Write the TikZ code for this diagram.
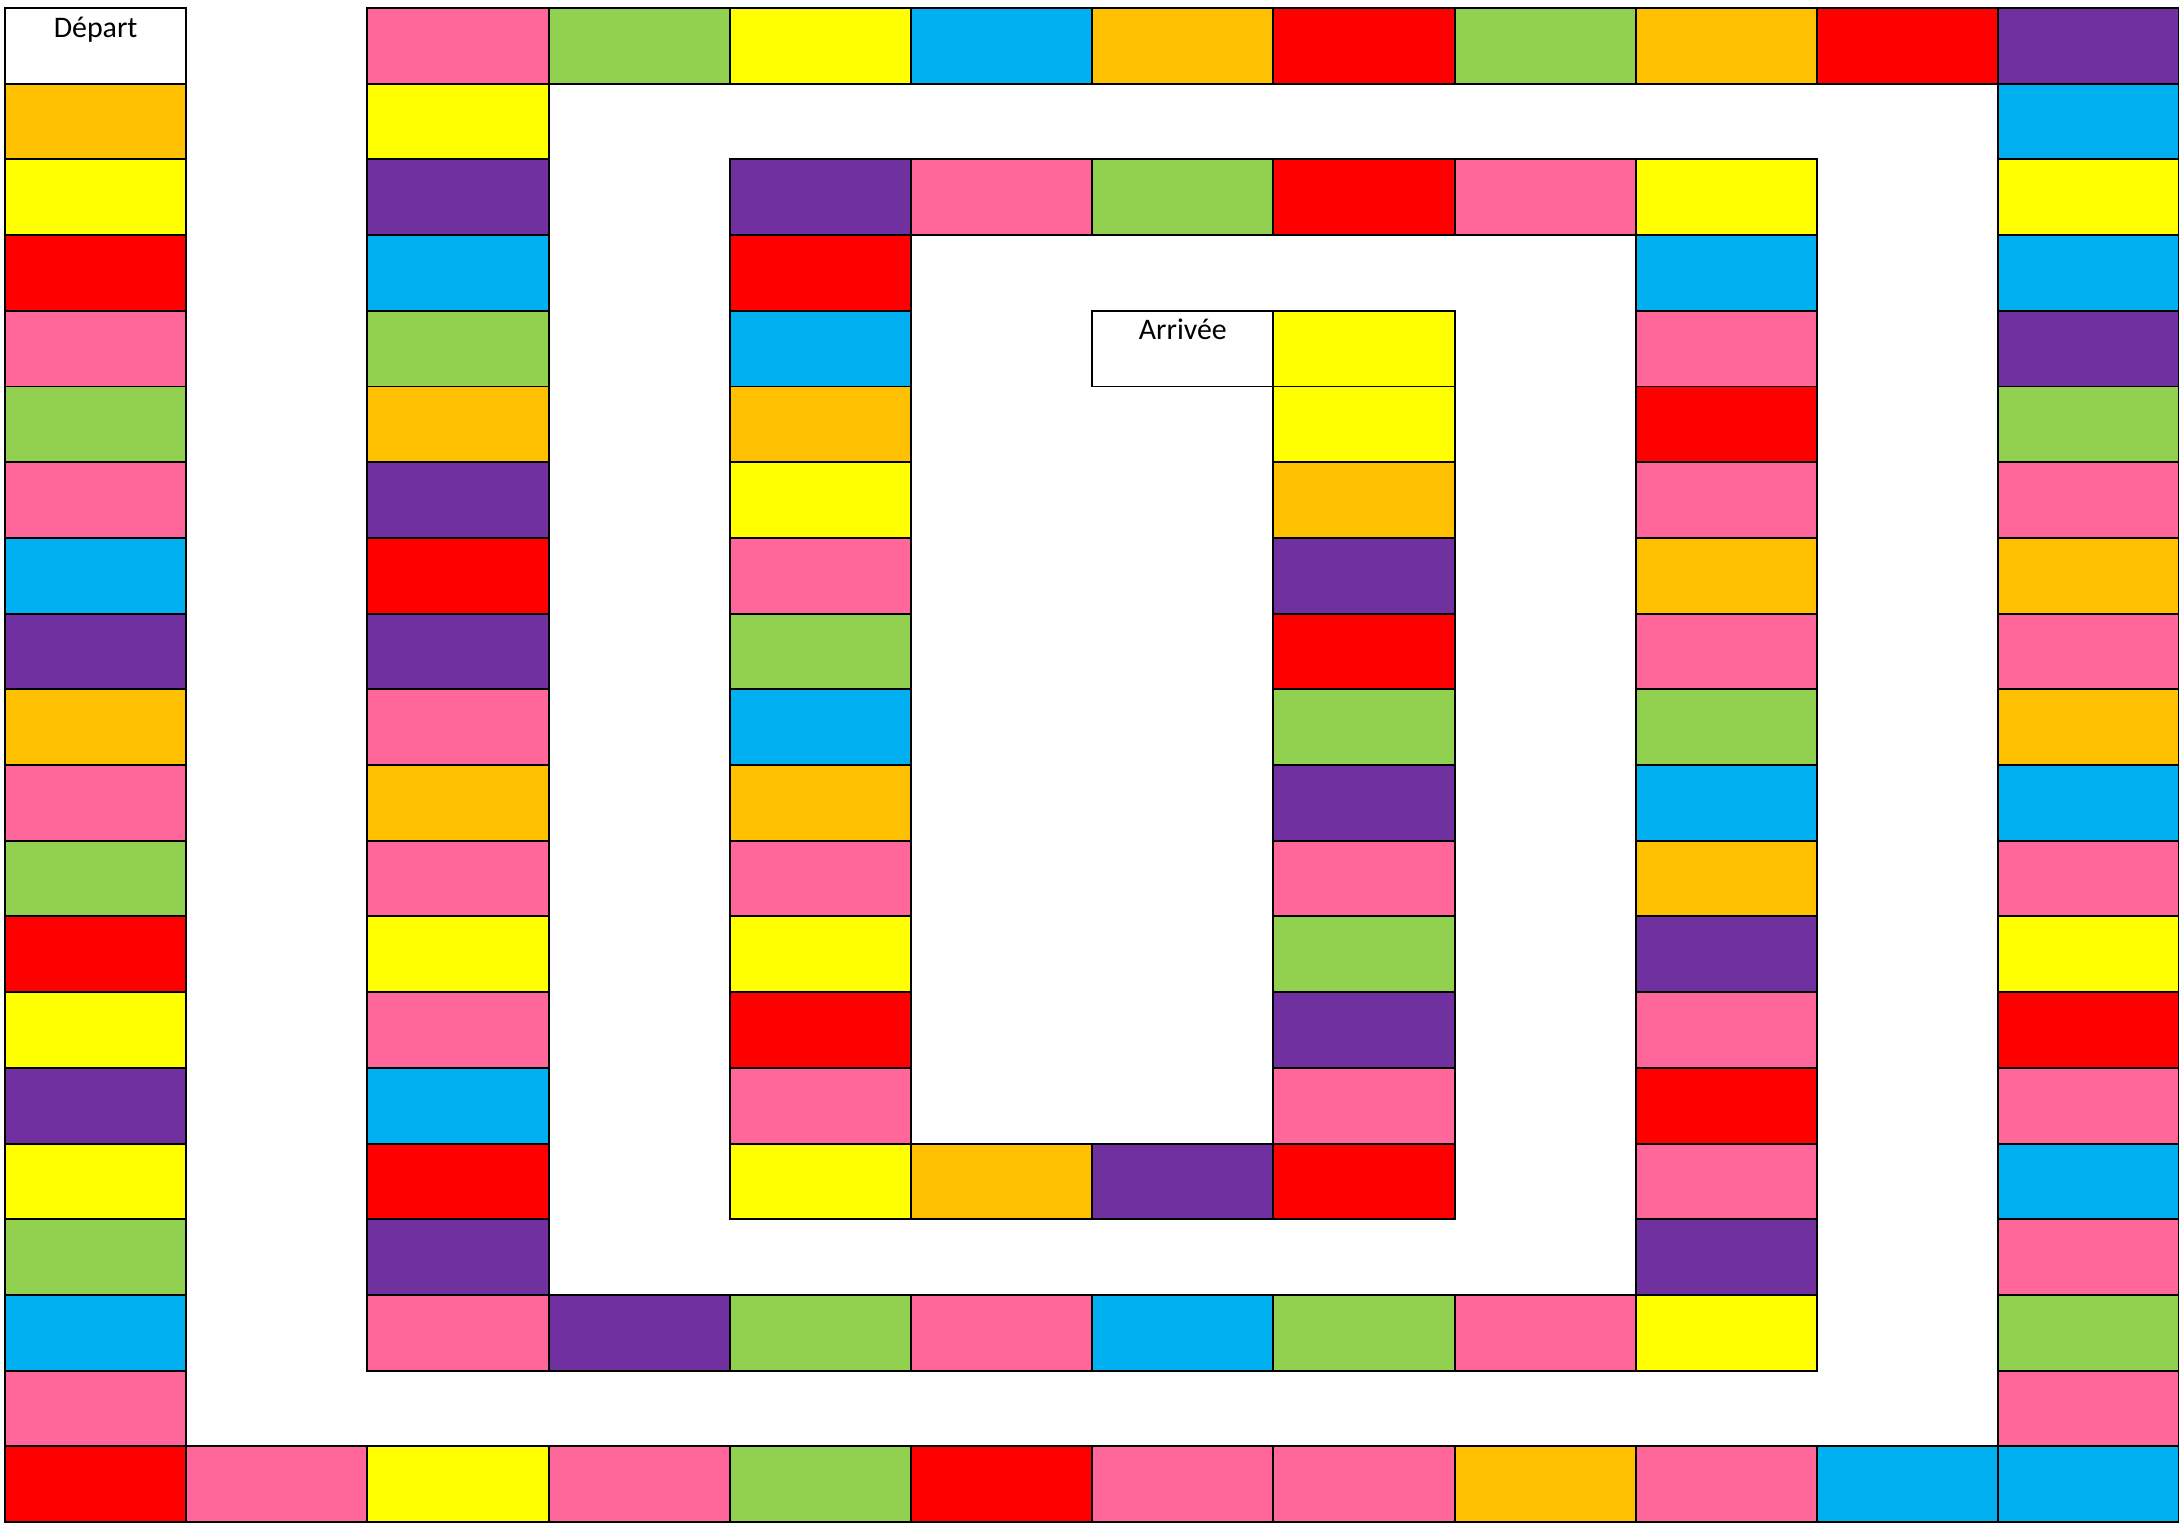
\documentclass[tikz,border=0pt]{standalone}
\usepackage{fontspec}
\setmainfont{Carlito}
\usepackage{tikz}
\definecolor{mypink}{RGB}{255,102,153}
\definecolor{mygreen}{RGB}{146,208,80}
\definecolor{myyellow}{RGB}{255,255,0}
\definecolor{myblue}{RGB}{0,176,240}
\definecolor{myorange}{RGB}{255,192,0}
\definecolor{myred}{RGB}{255,0,0}
\definecolor{mypurple}{RGB}{112,48,160}
\tikzstyle{cell} = [draw, line width=0.55pt]
\tikzstyle{label} = [anchor=base, inner sep=0pt, font=\fontsize{8.5}{10}\selectfont]

\begin{document}
\begin{tikzpicture}[x=1.812cm, y=0.757cm]
	\useasboundingbox (-0.05cm,0.08cm) rectangle ++(21.79cm,-15.23cm);
	%Start und Ziel
	\draw[cell, fill=white] (0,0) rectangle ++(1,-1);
	\node[label] (depart) at (0.5,-0.383) {Départ};
	\draw[cell, fill=white] (6,-4) rectangle ++(1,-1);
	\node[label] (arrivee) at (6.5,-4.383) {Arrivée};
	%aeussere Runde
	\foreach \clr [count=\r] in {myorange,myyellow,myred,mypink,mygreen,mypink,myblue,mypurple,myorange,mypink,mygreen,myred,myyellow,mypurple,myyellow,mygreen,myblue,mypink,myred}
		\draw[cell, fill=\clr] (0,-\r) rectangle ++(1,-1);
	\foreach \clr [count=\i] in {mypink,myyellow,mypink,mygreen,myred,mypink,mypink,myorange,mypink,myblue,myblue}
		\draw[cell, fill=\clr] (\i,-19) rectangle ++(1,-1);
	\foreach \clr [count=\r from 0] in {mypurple,myblue,myyellow,myblue,mypurple,mygreen,mypink,myorange,mypink,myorange,myblue,mypink,myyellow,myred,mypink,myblue,mypink,mygreen,mypink}
		\draw[cell, fill=\clr] (11,-\r) rectangle ++(1,-1);
	\foreach \clr [count=\i from 2] in {mypink,mygreen,myyellow,myblue,myorange,myred,mygreen,myorange,myred}
		\draw[cell, fill=\clr] (\i,0) rectangle ++(1,-1);
	%mittlere Runde
	\foreach \clr [count=\r] in {myyellow,mypurple,myblue,mygreen,myorange,mypurple,myred,mypurple,mypink,myorange,mypink,myyellow,mypink,myblue,myred,mypurple,mypink}
		\draw[cell, fill=\clr] (2,-\r) rectangle ++(1,-1);
	\foreach \clr [count=\i from 3] in {mypurple,mygreen,mypink,myblue,mygreen,mypink,myyellow}
		\draw[cell, fill=\clr] (\i,-17) rectangle ++(1,-1);
	\foreach \clr [count=\r from 2] in {myyellow,myblue,mypink,myred,mypink,myorange,mypink,mygreen,myblue,myorange,mypurple,mypink,myred,mypink,mypurple}
		\draw[cell, fill=\clr] (9,-\r) rectangle ++(1,-1);
	\foreach \clr [count=\i from 4] in {mypurple,mypink,mygreen,myred,mypink}
		\draw[cell, fill=\clr] (\i,-2) rectangle ++(1,-1);
	%innere Runde
	\foreach \clr [count=\r from 3] in {myred,myblue,myorange,myyellow,mypink,mygreen,myblue,myorange,mypink,myyellow,myred,mypink,myyellow}
		\draw[cell, fill=\clr] (4,-\r) rectangle ++(1,-1);
	\foreach \clr [count=\i from 5] in {myorange,mypurple,myred}
		\draw[cell, fill=\clr] (\i,-15) rectangle ++(1,-1);
	\foreach \clr [count=\r from 4] in {myyellow,myyellow,myorange,mypurple,myred,mygreen,mypurple,mypink,mygreen,mypurple,mypink}
		\draw[cell, fill=\clr] (7,-\r) rectangle ++(1,-1);
\end{tikzpicture}
\end{document}
